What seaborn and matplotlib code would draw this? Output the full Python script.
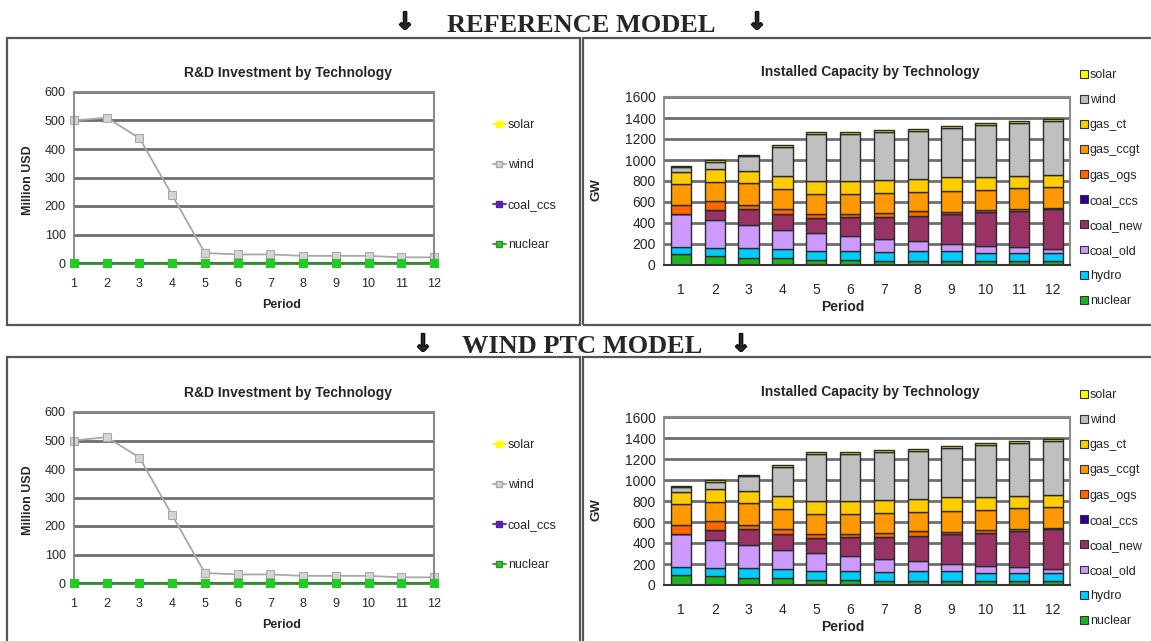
import pandas as pd
import matplotlib
matplotlib.use("Agg")
import matplotlib.pyplot as plt
import matplotlib.patheffects as pe
from matplotlib.lines import Line2D
from matplotlib.patches import Patch, Rectangle
import seaborn as sns

W, H = 1151, 641

periods = [1, 2, 3, 4, 5, 6, 7, 8, 9, 10, 11, 12]

# R&D investment (Million USD)
rd_wind_ref = [500, 510, 438, 238, 35, 30, 30, 25, 25, 25, 20, 20]
rd_wind_ptc = [500, 512, 440, 238, 35, 30, 30, 25, 25, 25, 20, 20]
rd_solar = [0, 0, 0, 0, 0, 0, 0, 0, 0, 0, 0, 0]
rd_coal_ccs = [0, 0, 0, 0, 0, 0, 0, 0, 0, 0, 0, 0]
rd_nuclear = [0, 0, 0, 0, 0, 0, 0, 0, 0, 0, 0, 0]

# installed capacity (GW), both models read the same off the picture
cap_nuclear = [100, 85, 70, 70, 50, 50, 40, 40, 35, 35, 35, 35]
cap_hydro = [75, 75, 90, 80, 85, 85, 85, 90, 95, 80, 80, 80]
cap_coal_old = [310, 270, 220, 185, 170, 140, 125, 95, 70, 70, 55, 40]
cap_coal_new = [5, 95, 150, 155, 145, 180, 210, 245, 290, 315, 340, 375]
cap_coal_ccs = [0, 0, 0, 0, 0, 0, 0, 0, 0, 0, 0, 0]
cap_gas_ogs = [85, 80, 45, 40, 40, 35, 35, 40, 15, 20, 20, 15]
cap_gas_ccgt = [200, 185, 205, 195, 185, 185, 195, 185, 200, 195, 200, 200]
cap_gas_ct = [115, 125, 115, 125, 125, 125, 115, 125, 130, 120, 115, 115]
cap_wind = [45, 70, 140, 270, 445, 445, 465, 460, 470, 495, 510, 510]
cap_solar = [10, 15, 15, 20, 20, 20, 20, 20, 20, 20, 20, 20]

rd_order = ["solar", "wind", "coal_ccs", "nuclear"]
rd_colors = {"solar": "#ffff00", "wind": "#a8a8a8", "coal_ccs": "#5522aa", "nuclear": "#3a8a3a"}
rd_faces = {"solar": "#ffff00", "wind": "#d4d4d4", "coal_ccs": "#5522aa", "nuclear": "#22cc22"}

cap_order = ["solar", "wind", "gas_ct", "gas_ccgt", "gas_ogs", "coal_ccs",
             "coal_new", "coal_old", "hydro", "nuclear"]
cap_colors = {"solar": "#ffff00", "wind": "#c0c0c0", "gas_ct": "#ffcc00",
              "gas_ccgt": "#ff9900", "gas_ogs": "#ff6600", "coal_ccs": "#330099",
              "coal_new": "#993366", "coal_old": "#cc99ff", "hydro": "#00ccff",
              "nuclear": "#1fb51f"}

cap_series = {"solar": cap_solar, "wind": cap_wind, "gas_ct": cap_gas_ct,
              "gas_ccgt": cap_gas_ccgt, "gas_ogs": cap_gas_ogs, "coal_ccs": cap_coal_ccs,
              "coal_new": cap_coal_new, "coal_old": cap_coal_old, "hydro": cap_hydro,
              "nuclear": cap_nuclear}

sans = ["Liberation Sans", "DejaVu Sans"]
serif = ["Liberation Serif", "DejaVu Serif"]


def fx(px):
    return px / W


def fy(py):
    return 1 - py / H


def make_rd_df(wind):
    rows = []
    vals = {"solar": rd_solar, "wind": wind, "coal_ccs": rd_coal_ccs, "nuclear": rd_nuclear}
    for tech in rd_order:
        for p, v in zip(periods, vals[tech]):
            rows.append({"period": p, "value": v, "tech": tech})
    return pd.DataFrame(rows)


def make_cap_df():
    rows = []
    for tech in cap_order:
        for p, v in zip(periods, cap_series[tech]):
            rows.append({"period": p, "GW": v, "tech": tech})
    return pd.DataFrame(rows)


def style_axes(ax, labelsize):
    ax.set_facecolor("white")
    ax.grid(axis="y", color="#6e6e6e", linewidth=2)
    ax.grid(axis="x", visible=False)
    ax.set_axisbelow(True)
    for side in ["top", "right"]:
        ax.spines[side].set_color("#8a8a8a")
        ax.spines[side].set_linewidth(1.5)
    ax.spines["left"].set_color("#808080")
    ax.spines["bottom"].set_color("#333333")
    ax.spines["bottom"].set_linewidth(1.5)
    ax.tick_params(axis="y", length=4, color="#555555", labelsize=labelsize, pad=2)
    for lab in ax.get_xticklabels() + ax.get_yticklabels():
        lab.set_fontfamily(sans)
    ax.set_xlabel("")
    ax.set_ylabel("")


def plot_rd(fig, dy, wind):
    ax = fig.add_axes([fx(74), fy(263 + dy), fx(434) - fx(74), fy(92) - fy(263)])
    df = make_rd_df(wind)
    sns.lineplot(data=df, x="period", y="value", hue="tech", hue_order=rd_order,
                 palette=rd_colors, style="tech", markers={t: "s" for t in rd_order},
                 dashes=False, markersize=5.5, linewidth=1.3, legend=False, ax=ax)
    for line, tech in zip(ax.lines, rd_order):
        line.set_markerfacecolor(rd_faces[tech])
        line.set_markeredgecolor(rd_faces[tech] if tech == "nuclear" else rd_colors[tech])
        line.set_clip_on(False)
        if tech == "nuclear":
            line.set_zorder(5)
            line.set_linewidth(2)
    ax.set_xlim(1, 12)
    ax.set_ylim(0, 600)
    ax.set_xticks(periods)
    ax.set_yticks([0, 100, 200, 300, 400, 500, 600])
    style_axes(ax, 9)
    ax.tick_params(axis="x", direction="inout", length=7, color="#444444",
                   labelsize=9, pad=7)

    fig.text(fx(288), fy(73 + dy), "R&D Investment by Technology", ha="center", va="center",
             fontsize=10, fontweight="bold", family=sans)
    fig.text(fx(28), fy(180 + dy), "Million USD", ha="center", va="center", rotation=90,
             fontsize=9, fontweight="bold", family=sans)
    fig.text(fx(282), fy(305 + dy), "Period", ha="center", va="center",
             fontsize=9, fontweight="bold", family=sans)

    handles = [Line2D([0], [0], color=rd_colors[t], marker="s", markersize=5,
                      markerfacecolor=rd_faces[t], markeredgecolor=rd_colors[t], linewidth=1.3)
               for t in rd_order]
    fig.legend(handles, rd_order, loc="upper left",
               bbox_to_anchor=(fx(493), fy(119 + dy)), frameon=False,
               prop={"family": sans, "size": 9}, handlelength=1.0, handletextpad=0.2,
               labelspacing=2.25, borderaxespad=0, borderpad=0)


def plot_cap(fig, dy):
    ax = fig.add_axes([fx(664), fy(265 + dy), fx(1070) - fx(664), fy(97) - fy(265)])
    df = make_cap_df()
    sns.histplot(data=df, x="period", weights="GW", hue="tech", hue_order=cap_order,
                 multiple="stack", discrete=True, shrink=0.6, palette=cap_colors,
                 alpha=1, edgecolor="#2a2a2a", linewidth=1.0, legend=False, ax=ax)
    ax.set_xlim(0.5, 12.5)
    ax.set_ylim(0, 1600)
    ax.set_xticks(periods)
    ax.set_xticks([p + 0.5 for p in [0] + periods], minor=True)
    ax.set_yticks([0, 200, 400, 600, 800, 1000, 1200, 1400, 1600])
    style_axes(ax, 10)
    ax.tick_params(axis="x", which="major", length=0, labelsize=10, pad=13)
    ax.tick_params(axis="x", which="minor", length=4, color="#555555")

    fig.text(fx(870), fy(72 + dy), "Installed Capacity by Technology", ha="center", va="center",
             fontsize=10, fontweight="bold", family=sans)
    fig.text(fx(597), fy(190 + dy), "GW", ha="center", va="center", rotation=90,
             fontsize=9.5, fontweight="bold", family=sans)
    fig.text(fx(843), fy(307 + dy), "Period", ha="center", va="center",
             fontsize=10, fontweight="bold", family=sans)

    handles = [Patch(facecolor=cap_colors[t], edgecolor="#333333", linewidth=0.8)
               for t in cap_order]
    fig.legend(handles, cap_order, loc="upper left",
               bbox_to_anchor=(fx(1080), fy(69 + dy)), frameon=False,
               prop={"family": sans, "size": 9}, handlelength=0.6, handleheight=0.6,
               handletextpad=0.2, labelspacing=1.05, borderaxespad=0, borderpad=0)


def header(fig, y_arrow, y_base, text, xa, xt, xb):
    for x in (xa, xb):
        fig.text(fx(x), fy(y_arrow), "\u2193", ha="center", va="baseline", fontsize=17,
                 fontweight="bold", family=["DejaVu Sans"],
                 path_effects=[pe.withStroke(linewidth=1.3, foreground="black")])
    fig.text(fx(xt), fy(y_base), text, ha="center", va="baseline", fontsize=19,
             fontweight="bold", family=serif)


def frames(fig, top, bottom):
    for x0, x1 in [(7, 580), (583, 1165)]:
        fig.add_artist(Rectangle((fx(x0), fy(bottom)), fx(x1) - fx(x0), fy(top) - fy(bottom),
                                 transform=fig.transFigure, fill=False,
                                 edgecolor="#555555", linewidth=1.6))


if __name__ == "__main__":
    sns.set_theme(style="white")
    plt.rcParams["font.family"] = sans

    fig = plt.figure(figsize=(W / 100, H / 100), dpi=100, facecolor="white")

    header(fig, 29, 32, "REFERENCE MODEL", 405, 581, 757)
    frames(fig, 38, 325)
    plot_rd(fig, 0, rd_wind_ref)
    plot_cap(fig, 0)

    header(fig, 351, 353, "WIND PTC MODEL", 423, 582, 741)
    frames(fig, 357, 660)
    plot_rd(fig, 320, rd_wind_ptc)
    plot_cap(fig, 320)

    fig.savefig("out.png", dpi=100, facecolor="white")
